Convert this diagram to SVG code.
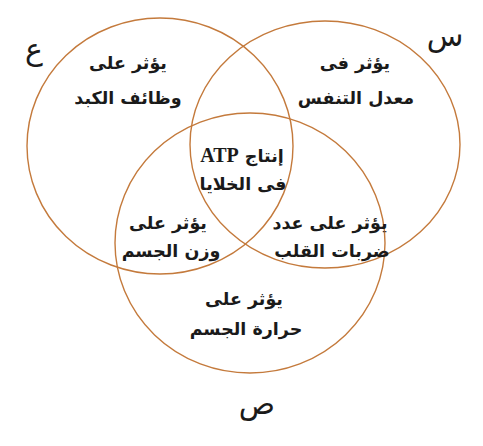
<svg xmlns="http://www.w3.org/2000/svg" width="483" height="446" viewBox="0 0 483 446">
<style>
.c{fill:none;stroke:#c47a3c;stroke-width:1.4}
.t{font-family:"DejaVu Sans",sans-serif;font-weight:bold;font-size:17.5px;fill:#1a1a1a;text-anchor:middle;direction:rtl}
.l{font-family:"DejaVu Sans",sans-serif;font-size:30px;fill:#1a1a1a;text-anchor:middle}
.e{font-family:"Liberation Serif",serif;font-weight:bold;font-size:20px}
</style>
<rect width="483" height="446" fill="#ffffff"/>
<g id="connectors">
<ellipse id="circle-ain" class="c" cx="160" cy="146" rx="133" ry="128"/>
<ellipse id="circle-sin" class="c" cx="325" cy="144.5" rx="135" ry="123.5"/>
<ellipse id="circle-sad" class="c" cx="250" cy="243" rx="135" ry="130"/>
</g>
<g id="label-ain"><text class="l" x="34" y="60">ع</text></g>
<g id="label-sin"><text class="l" x="445" y="46">س</text></g>
<g id="label-sad"><text class="l" x="257" y="414">ص</text></g>
<g id="node-liver"><text class="t" x="128" y="69">يؤثر على</text><text class="t" x="128" y="104">وظائف الكبد</text></g>
<g id="node-breath"><text class="t" x="355" y="69">يؤثر فى</text><text class="t" x="356" y="104">معدل التنفس</text></g>
<g id="node-atp"><text class="t" x="242" y="162">إنتاج <tspan class="e">ATP</tspan></text><text class="t" x="243" y="190">فى الخلايا</text></g>
<g id="node-weight"><text class="t" x="168" y="229">يؤثر على</text><text class="t" x="171" y="257">وزن الجسم</text></g>
<g id="node-heart"><text class="t" x="330" y="229">يؤثر على عدد</text><text class="t" x="332" y="257">ضربات القلب</text></g>
<g id="node-temp"><text class="t" x="244" y="305">يؤثر على</text><text class="t" x="246" y="335">حرارة الجسم</text></g>
</svg>
